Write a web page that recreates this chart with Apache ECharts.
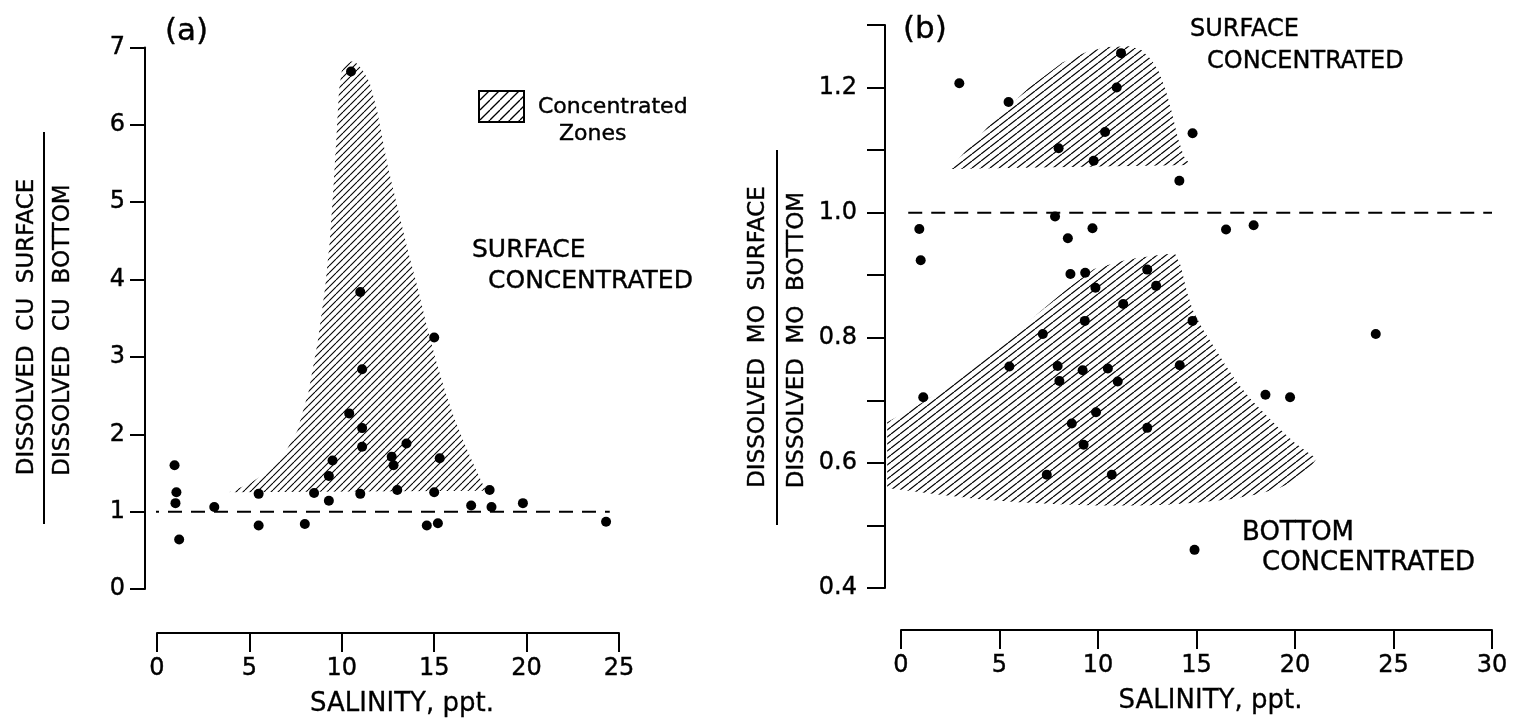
<!DOCTYPE html>
<html><head><meta charset="utf-8">
<script src="https://cdn.jsdelivr.net/npm/echarts@6/dist/echarts.min.js"></script>
<style>html,body{margin:0;padding:0;background:#fff}#c{width:1518px;height:728px}</style>
</head><body><div id="c"></div>
<script>
// ---- Panel (a): Cu ----
const xTicksA = [0, 5, 10, 15, 20, 25];
const cuSalinity = [10.5, 11.0, 15.0, 11.1, 10.4, 11.1, 11.1, 13.5, 9.5, 12.7, 12.8, 15.3, 9.3, 9.3, 11.0, 13.0, 15.0, 14.6, 15.2, 17.0, 18.0, 18.1, 19.8, 24.3, 0.95, 1.05, 1.0, 1.2, 3.1, 5.5, 5.5, 8.0, 8.5];
const cuRatio    = [6.69, 3.84, 3.25, 2.84, 2.27, 2.08, 1.84, 1.88, 1.66, 1.71, 1.60, 1.69, 1.46, 1.14, 1.23, 1.28, 1.25, 0.82, 0.85, 1.08, 1.28, 1.06, 1.11, 0.87, 1.60, 1.25, 1.11, 0.64, 1.06, 1.23, 0.82, 0.84, 1.24];
const cuZoneX = [3.9, 5.0, 6.0, 6.9, 7.6, 8.2, 8.7, 9.1, 9.35, 9.55, 9.7, 9.85, 10.0, 10.3, 10.7, 11.1, 11.5, 11.9, 12.5, 13.1, 13.6, 14.1, 14.6, 15.1, 15.6, 16.1, 16.6, 17.1, 17.5, 17.8];
const cuZoneY = [1.25, 1.36, 1.52, 1.75, 2.05, 2.55, 3.2, 3.9, 4.5, 5.2, 5.8, 6.45, 6.7, 6.82, 6.82, 6.72, 6.55, 6.2, 5.45, 4.85, 4.35, 3.9, 3.4, 2.95, 2.55, 2.2, 1.9, 1.63, 1.42, 1.27];
const cuRefX = [-0.65, 24.5];
const cuRefY = [1, 1];

// ---- Panel (b): Mo ----
const xTicksB = [0, 5, 10, 15, 20, 25, 30];
const moSalinity = [2.96, 5.46, 11.17, 10.95, 10.36, 8.0, 9.78, 14.8, 14.13, 7.82, 0.93, 8.47, 9.72, 16.5, 17.9, 1.0, 8.6, 9.35, 12.5, 9.87, 12.95, 11.28, 9.33, 14.8, 7.2, 5.5, 7.95, 9.22, 10.5, 14.15, 8.04, 11.0, 1.13, 9.9, 8.67, 12.5, 9.27, 7.4, 10.7, 24.1, 18.5, 19.75, 14.9];
const moRatio    = [1.207, 1.177, 1.255, 1.200, 1.129, 1.103, 1.083, 1.127, 1.051, 0.994, 0.974, 0.959, 0.975, 0.973, 0.980, 0.924, 0.902, 0.904, 0.909, 0.880, 0.883, 0.854, 0.827, 0.827, 0.806, 0.754, 0.755, 0.748, 0.751, 0.756, 0.731, 0.730, 0.705, 0.681, 0.663, 0.656, 0.629, 0.581, 0.581, 0.806, 0.709, 0.705, 0.461];
const moSurfZoneX = [2.45, 4.5, 6.5, 8.2, 9.5, 10.5, 11.6, 12.2, 12.7, 13.1, 13.45, 13.75, 14.05, 14.35, 14.7];
const moSurfZoneY = [1.07, 1.14, 1.2, 1.24, 1.258, 1.265, 1.266, 1.26, 1.245, 1.225, 1.195, 1.16, 1.12, 1.09, 1.076];
const moBotZoneX = [-0.7, 1.0, 2.3, 4.5, 7.0, 8.5, 9.8, 11.5, 13.0, 13.9, 14.2, 14.5, 14.8, 15.3, 15.9, 16.5, 17.1, 17.8, 18.6, 19.3, 19.95, 20.6, 21.1, 20.7, 20.1, 19.2, 18.1, 16.7, 15.2, 13.5, 12.0, 10.0, 8.0, 6.0, 4.0, 2.0, 0.5, -0.7];
const moBotZoneY = [0.665, 0.695, 0.72, 0.772, 0.84, 0.88, 0.91, 0.925, 0.932, 0.935, 0.915, 0.875, 0.845, 0.815, 0.785, 0.755, 0.727, 0.70, 0.674, 0.652, 0.633, 0.618, 0.607, 0.59, 0.573, 0.56, 0.55, 0.542, 0.537, 0.533, 0.532, 0.532, 0.534, 0.537, 0.542, 0.549, 0.555, 0.56];
const moRefX = [-0.8, 30];
const moRefY = [1, 1];

const FONT = 'DejaVu Sans';
const INK = '#000';

function makeHatch(w, h, lw) {
  const c = document.createElement('canvas');
  c.width = w; c.height = h;
  const g = c.getContext('2d');
  g.strokeStyle = '#000'; g.lineWidth = lw;
  for (const k of [-1, 0, 1]) {
    g.beginPath(); g.moveTo(k * w, h); g.lineTo(k * w + w, 0); g.stroke();
  }
  return c;
}
const hatchA = { image: makeHatch(7, 7, 1.1), repeat: 'repeat' };
const hatchB = { image: makeHatch(9, 7, 1.2), repeat: 'repeat' };
const hatchL = { image: makeHatch(10, 10, 1.3), repeat: 'repeat' };

function zip(xs, ys) { return xs.map((x, i) => [x, ys[i]]); }

function zoneSeries(xi, xs, ys, pattern) {
  return {
    type: 'custom', xAxisIndex: xi, yAxisIndex: xi, silent: true, clip: false, z: 1,
    data: [[xs[0], ys[0]]],
    renderItem: function (params, api) {
      const pts = xs.map((x, i) => api.coord([x, ys[i]]));
      return { type: 'polygon', shape: { points: pts }, style: { fill: pattern, stroke: null } };
    }
  };
}

const labelStyle = { color: INK, fontFamily: FONT, fontSize: 24, textBorderColor: INK, textBorderWidth: 0.4 };

function xAxisCfg(gi, max, offset) {
  return {
    gridIndex: gi, type: 'value', min: 0, max: max, interval: 5, offset: offset,
    axisLine: { onZero: false, lineStyle: { color: INK, width: 2 } },
    axisTick: { length: 19, lineStyle: { color: INK, width: 2 } },
    axisLabel: Object.assign({ margin: 24 }, labelStyle),
    splitLine: { show: false },
    name: 'SALINITY, ppt.', nameLocation: 'middle', nameGap: 58,
    nameTextStyle: { color: INK, fontFamily: FONT, fontSize: 26, padding: [0, 0, 0, 28], textBorderColor: INK, textBorderWidth: 0.3 }
  };
}

function txt(x, y, text, size, extra) {
  return Object.assign({ type: 'text', x: x, y: y,
    style: { text: text, font: size + 'px "DejaVu Sans"', fill: INK, stroke: INK, lineWidth: 0.4, verticalAlign: 'middle' } }, extra || {});
}
function vtxt(x, y, text, size) {
  return { type: 'text', x: x, y: y, rotation: Math.PI / 2,
    style: { text: text, font: size + 'px "DejaVu Sans"', fill: INK, stroke: INK, lineWidth: 0.4, align: 'center', verticalAlign: 'middle' } };
}

const option = {
  animation: false,
  backgroundColor: '#fff',
  grid: [
    { left: 157, top: 47.5, width: 462, height: 541.5 },
    { left: 901, top: 25, width: 591, height: 563 }
  ],
  xAxis: [xAxisCfg(0, 25, 44), xAxisCfg(1, 30, 42)],
  yAxis: [
    { gridIndex: 0, type: 'value', min: 0, max: 7, interval: 1, offset: 12,
      axisLine: { show: true, onZero: false, lineStyle: { color: INK, width: 2 } },
      axisTick: { show: true, length: 15, lineStyle: { color: INK, width: 2 } },
      axisLabel: Object.assign({ margin: 20 }, labelStyle),
      splitLine: { show: false } },
    { gridIndex: 1, type: 'value', min: 0.4, max: 1.3, interval: 0.1, offset: 16,
      axisLine: { show: true, onZero: false, lineStyle: { color: INK, width: 2 } },
      axisTick: { show: true, length: 18, lineStyle: { color: INK, width: 2 } },
      axisLabel: Object.assign({ margin: 28, formatter: v => (Math.round(v * 10) % 2 === 0 ? v.toFixed(1) : '') }, labelStyle),
      splitLine: { show: false } }
  ],
  series: [
    zoneSeries(0, cuZoneX, cuZoneY, hatchA),
    zoneSeries(1, moSurfZoneX, moSurfZoneY, hatchB),
    zoneSeries(1, moBotZoneX, moBotZoneY, hatchB),
    { type: 'line', xAxisIndex: 0, yAxisIndex: 0, data: zip(cuRefX, cuRefY), symbol: 'none', silent: true,
      lineStyle: { color: INK, width: 2, type: [14, 9] }, z: 2 },
    { type: 'line', xAxisIndex: 1, yAxisIndex: 1, data: zip(moRefX, moRefY), symbol: 'none', silent: true,
      lineStyle: { color: INK, width: 2, type: [14, 9] }, z: 2 },
    { type: 'scatter', xAxisIndex: 0, yAxisIndex: 0, data: zip(cuSalinity, cuRatio), symbolSize: 10,
      itemStyle: { color: INK, opacity: 1 }, z: 3 },
    { type: 'scatter', xAxisIndex: 1, yAxisIndex: 1, data: zip(moSalinity, moRatio), symbolSize: 10,
      itemStyle: { color: INK, opacity: 1 }, z: 3 }
  ],
  graphic: [
    vtxt(27, 327, 'DISSOLVED  CU  SURFACE', 23),
    { type: 'line', shape: { x1: 44, y1: 132, x2: 44, y2: 524 }, style: { stroke: INK, lineWidth: 2 } },
    vtxt(63, 330, 'DISSOLVED  CU  BOTTOM', 23),
    vtxt(758, 337, 'DISSOLVED  MO  SURFACE', 23),
    { type: 'line', shape: { x1: 777, y1: 150, x2: 777, y2: 525 }, style: { stroke: INK, lineWidth: 2 } },
    vtxt(797, 340, 'DISSOLVED  MO  BOTTOM', 23),
    txt(165, 32, '(a)', 31),
    txt(903, 30, '(b)', 31),
    { type: 'rect', shape: { x: 479, y: 91, width: 45, height: 31 }, style: { fill: hatchL, stroke: INK, lineWidth: 2 } },
    txt(538, 107, 'Concentrated', 22),
    txt(559, 134, 'Zones', 22),
    txt(472, 250, 'SURFACE', 25),
    txt(488, 281, 'CONCENTRATED', 25),
    txt(1190, 30, 'SURFACE', 24),
    txt(1207, 62, 'CONCENTRATED', 24),
    txt(1242, 533, 'BOTTOM', 26),
    txt(1262, 563, 'CONCENTRATED', 26)
  ]
};

const chart = echarts.init(document.getElementById('c'), null, { renderer: 'canvas' });
chart.setOption(option);
</script>
</body></html>
